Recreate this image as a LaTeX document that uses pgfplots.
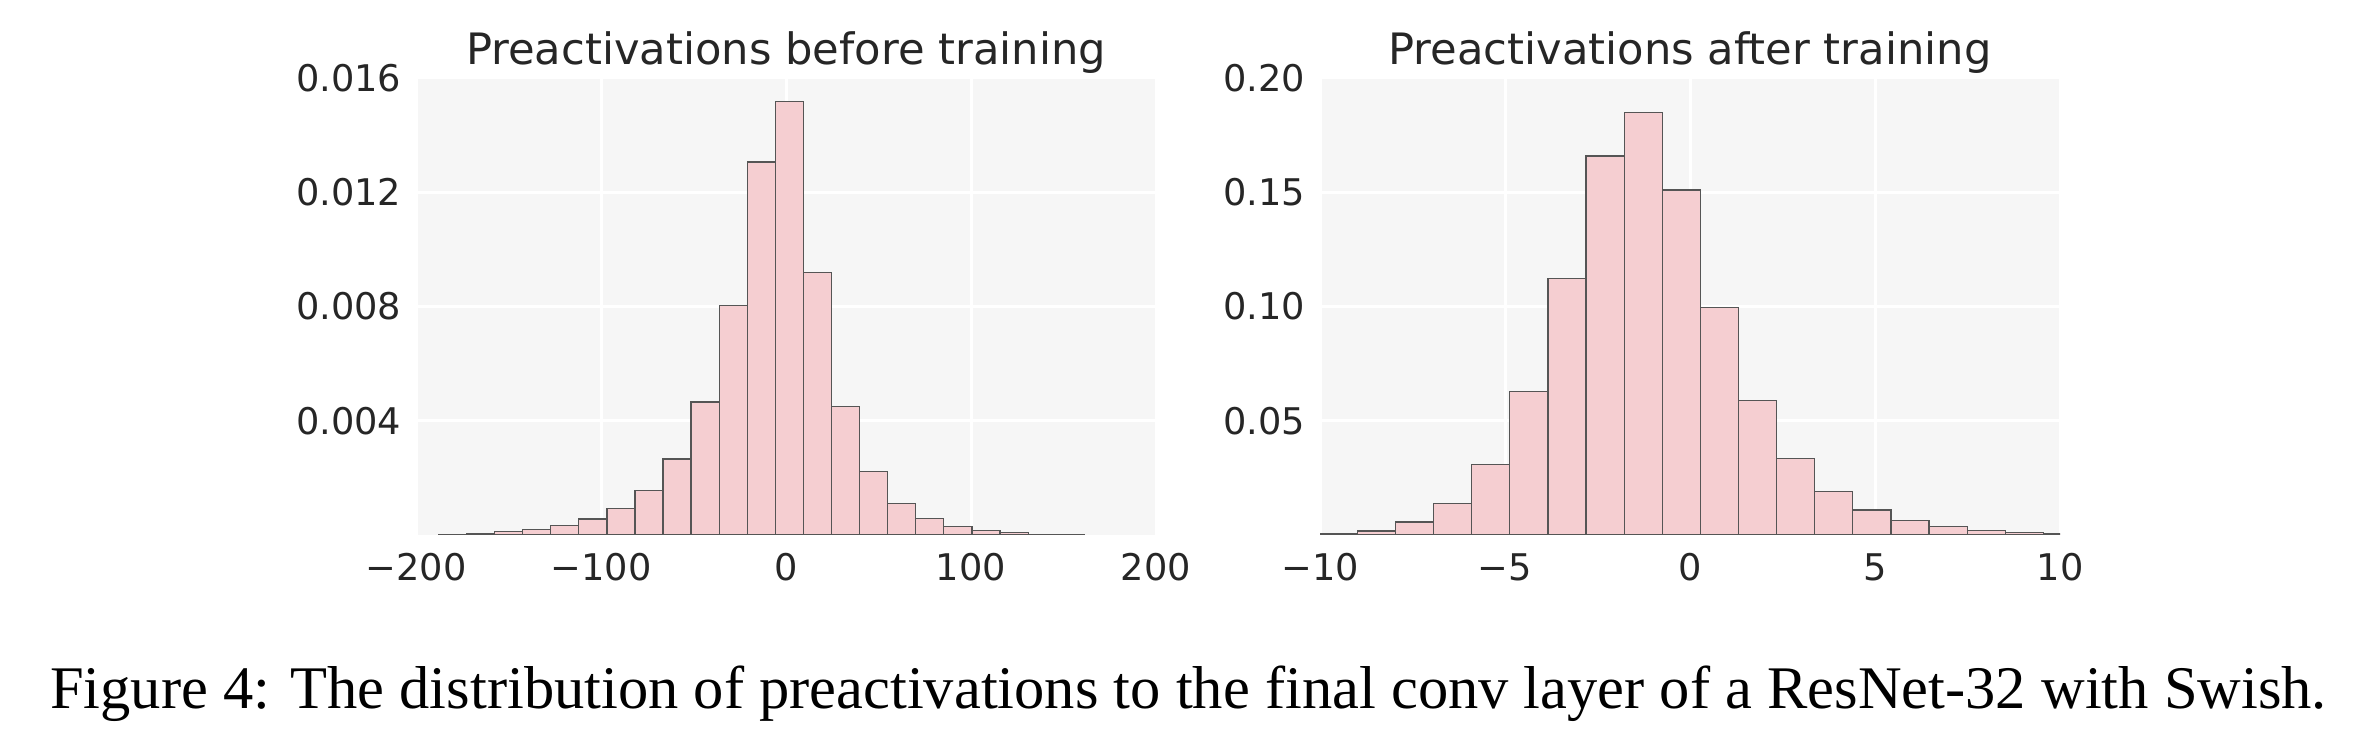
\documentclass[border=0pt]{standalone}
\usepackage{fontspec}
\setmainfont{Liberation Serif}
\newfontfamily\dejavu{DejaVu Sans}
\usepackage{pgfplots}
\pgfplotsset{compat=1.18}
\definecolor{bgc}{HTML}{F6F6F6}
\definecolor{barc}{HTML}{F5CED1}
\definecolor{edgec}{HTML}{555555}
\definecolor{txtc}{HTML}{262626}
\pgfplotsset{
  histstyle/.style={
    scale only axis, width=148pt, height=91.4pt, anchor=south west,
    axis background/.style={fill=bgc},
    axis line style={draw=none},
    major tick length=0pt,
    grid=major, major grid style={white, line width=0.6pt},
    ymin=0,
    scaled y ticks=false, scaled x ticks=false,
    /pgf/number format/assume math mode=true,
    tick label style={font=\dejavu\fontsize{7.35}{8}\selectfont, text=txtc},
    xticklabel style={yshift=-0.2pt},
    yticklabel style={xshift=0.6pt},
    every axis title/.style={font=\dejavu\fontsize{8.65}{10}\selectfont, text=txtc, at={(0.5,1)}, anchor=base, yshift=2.6pt},
    clip=true,
  }
}
\begin{document}
\begin{tikzpicture}
\path[use as bounding box] (0,0) rectangle (470.8pt,149.6pt);
\begin{axis}[histstyle, at={(83.2pt,42.6pt)},
  title={Preactivations before training},
  xmin=-200, xmax=200, ymax=0.016,
  xtick={-200,-100,0,100,200}, xticklabels={−200,−100,0,100,200},
  ytick={0.004,0.008,0.012,0.016}, yticklabels={0.004,0.008,0.012,0.016}]
\addplot[ybar interval, fill=barc, draw=edgec, line width=0.25pt] table {
x y
-187.9 0.00003
-172.7 0.00005
-157.5 0.00012
-142.4 0.00020
-127.2 0.00032
-112.0 0.00056
-96.8 0.00093
-81.6 0.00156
-66.5 0.00266
-51.3 0.00466
-36.1 0.00804
-20.9 0.01306
-5.7 0.01517
9.4 0.00919
24.6 0.00450
39.8 0.00223
55.0 0.00111
70.2 0.00058
85.3 0.00030
100.5 0.00015
115.7 0.00008
130.9 0.00003
146.1 0.00001
161.2 0.00001
};
\end{axis}
\begin{axis}[histstyle, at={(264pt,42.6pt)},
  title={Preactivations after training},
  xmin=-10, xmax=10, ymax=0.20,
  xtick={-10,-5,0,5,10}, xticklabels={−10,−5,0,5,10},
  ytick={0.05,0.10,0.15,0.20}, yticklabels={0.05,0.10,0.15,0.20}]
\addplot[ybar interval, fill=barc, draw=edgec, line width=0.25pt] table {
x y
-10.02 0.0005
-8.99 0.0018
-7.96 0.0057
-6.93 0.0138
-5.90 0.0307
-4.87 0.0629
-3.84 0.1122
-2.81 0.1659
-1.78 0.1849
-0.75 0.1510
0.28 0.0997
1.31 0.0589
2.34 0.0334
3.37 0.0190
4.40 0.0109
5.43 0.0064
6.46 0.0037
7.49 0.0020
8.52 0.0010
9.55 0.0005
10.58 0.0005
};
\end{axis}
\node[anchor=base, inner sep=0pt, font=\fontsize{12.1}{14}\selectfont] at (237.7pt,7.8pt)
  {Figure 4: The distribution of preactivations to the final conv layer of a ResNet-32 with Swish.};
\end{tikzpicture}
\end{document}
